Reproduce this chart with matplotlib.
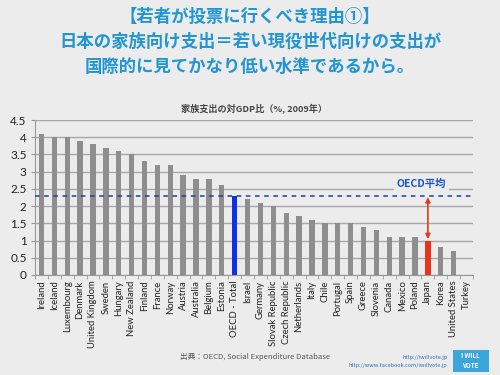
import matplotlib
matplotlib.use("Agg")
import matplotlib.pyplot as plt
from matplotlib.patches import FancyBboxPatch
import numpy as np

plt.rcParams['font.family'] = ['Noto Sans CJK JP', 'DejaVu Sans']

countries = ["Ireland", "Iceland", "Luxembourg", "Denmark", "United Kingdom", "Sweden",
             "Hungary", "New Zealand", "Finland", "France", "Norway", "Austria",
             "Australia", "Belgium", "Estonia", "OECD - Total", "Israel", "Germany",
             "Slovak Republic", "Czech Republic", "Netherlands", "Italy", "Chile",
             "Portugal", "Spain", "Greece", "Slovenia", "Canada", "Mexico", "Poland",
             "Japan", "Korea", "United States", "Turkey"]
values = [4.1, 4.0, 4.0, 3.9, 3.8, 3.7, 3.6, 3.5, 3.3, 3.2, 3.2, 2.9,
          2.8, 2.8, 2.6, 2.3, 2.2, 2.1, 2.0, 1.8, 1.7, 1.6, 1.5,
          1.5, 1.5, 1.4, 1.3, 1.1, 1.1, 1.1, 1.0, 0.8, 0.7, 0.0]
oecd_avg = 2.3
yticks = [0, 0.5, 1, 1.5, 2, 2.5, 3, 3.5, 4, 4.5]

bg = "#ececec"
title_blue = "#2196d3"

colors = []
for c in countries:
    if c == "OECD - Total":
        colors.append("#1030e8")
    elif c == "Japan":
        colors.append("#e8341c")
    else:
        colors.append("#8e8e8e")

fig = plt.figure(figsize=(5, 3.75), dpi=100, facecolor=bg)

# title
title_lines = ["【若者が投票に行くべき理由①】",
               "日本の家族向け支出＝若い現役世代向けの支出が",
               "国際的に見てかなり低い水準であるから。"]
for i, line in enumerate(title_lines):
    fig.text(0.5, 1 - (17 + 25 * i) / 375, line, ha="center", va="center",
             fontsize=12.5, fontweight="bold", color=title_blue,
             family=["Noto Sans CJK JP", "DejaVu Sans"])

ax = fig.add_axes([0.07, 0.2667, 0.876, 0.4133])
ax.set_facecolor(bg)
x = np.arange(len(countries))
ax.bar(x, values, width=0.42, color=colors, zorder=3)
ax.set_xlim(-0.5, len(countries) - 0.5)
ax.set_ylim(0, 4.5)
ax.set_yticks(yticks)
ax.set_yticklabels([("%g" % t) for t in yticks], fontsize=8.5,
                   family=["Lato", "DejaVu Sans"], color="#222222")
ax.yaxis.grid(True, color="#a8a8a8", linewidth=1, zorder=0)
ax.set_xticks(x)
ax.set_xticklabels(countries, rotation=90, fontsize=6.8,
                   family=["Lato", "DejaVu Sans"], color="#222222")
ax.set_xticks(np.arange(-0.5, len(countries), 1), minor=True)
ax.tick_params(axis="x", which="major", length=0, pad=4)
ax.tick_params(axis="x", which="minor", length=3, color="#999999")
ax.tick_params(axis="y", length=3, color="#999999", pad=3)
for s in ["top", "right"]:
    ax.spines[s].set_visible(False)
ax.spines["left"].set_color("#999999")
ax.spines["bottom"].set_color("#999999")

# OECD average line
ax.axhline(oecd_avg, color="#1a3fa0", linestyle=(0, (3, 3)), linewidth=1.1, zorder=4)
ji = countries.index("Japan")
ax.text(ji - 0.5, oecd_avg + 0.35, "OECD平均", ha="center", va="center",
        fontsize=7.5, fontweight="bold", color="#1a55c8", zorder=5,
        bbox=dict(boxstyle="square,pad=0.25", facecolor=bg, edgecolor="none"))
ax.annotate("", xy=(ji, values[ji]), xytext=(ji, oecd_avg),
            arrowprops=dict(arrowstyle="<|-|>", color="#e03a24", lw=1.2,
                            mutation_scale=7, shrinkA=1, shrinkB=1), zorder=5)

ax.set_title("家族支出の対GDP比（%, 2009年）", fontsize=6.6, fontweight="bold",
             color="#444444", pad=6)

fig.text(0.36, 1 - 357 / 375, "出典：OECD, Social Expenditure Database",
         ha="left", va="center", fontsize=5.5, color="#555555")
fig.text(0.895, 1 - 357 / 375, "http://iwillvote.jp", ha="right", va="center",
         fontsize=4, color="#2a6fc0")
fig.text(0.895, 1 - 365 / 375, "http://www.facebook.com/iwillvote.jp", ha="right",
         va="center", fontsize=4, color="#2a6fc0")
logo = FancyBboxPatch((0.905, 1 - 372 / 375), 0.072, 0.058, boxstyle="square,pad=0",
                      transform=fig.transFigure, facecolor="#3aa6dc", edgecolor="none")
fig.patches.append(logo)
fig.text(0.941, 1 - 356 / 375, "I WILL", ha="center", va="center", fontsize=4.5,
         fontweight="bold", color="white")
fig.text(0.941, 1 - 366 / 375, "VOTE", ha="center", va="center", fontsize=4.5,
         fontweight="bold", color="white")

fig.savefig("out.png", dpi=100, facecolor=bg)
